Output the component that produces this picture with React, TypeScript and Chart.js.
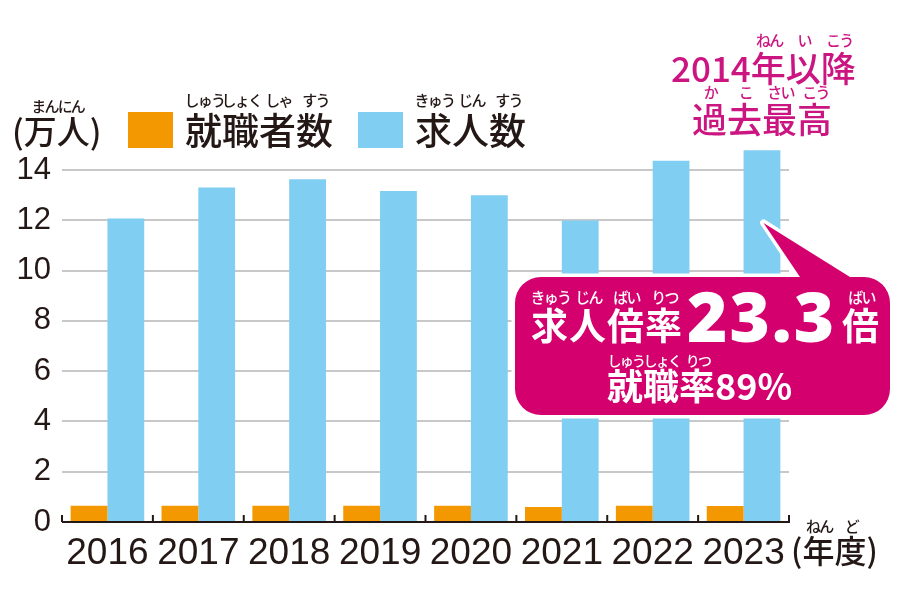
import React, { useEffect, useRef } from 'react';
import { Chart, registerables } from 'chart.js';

Chart.register(...registerables);

// ---- data ----
const years = ['2016', '2017', '2018', '2019', '2020', '2021', '2022', '2023'];
const employed = [0.65, 0.65, 0.65, 0.65, 0.65, 0.6, 0.65, 0.64];
const openings = [12.08, 13.31, 13.64, 13.17, 13.0, 12.0, 14.37, 14.79];
const yTickValues = [0, 2, 4, 6, 8, 10, 12, 14];
const ratioText = '23.3';
const rateText = '89%';

const DARK = '#231815';
const ORANGE = '#f39800';
const BLUE = '#80cef2';
const MAGENTA = '#d3006e';
const PINK_TEXT = '#cb1580';
const JP = '"Noto Sans CJK JP", "Noto Sans CJK SC", sans-serif';

type Seg = [string, string];

function ruby(
  ctx: CanvasRenderingContext2D,
  x: number,
  y: number,
  segs: Seg[],
  size: number,
  weight: number,
  rsize: number,
  rdy: number,
  color: string,
  spacing = 0,
  rspacing = -1.8
) {
  ctx.save();
  ctx.fillStyle = color;
  ctx.textBaseline = 'alphabetic';
  let cx = x;
  for (const [b, r] of segs) {
    ctx.font = `${weight} ${size}px ${JP}`;
    (ctx as any).letterSpacing = spacing + 'px';
    ctx.textAlign = 'left';
    const w = ctx.measureText(b).width;
    ctx.fillText(b, cx, y);
    if (r) {
      ctx.font = `500 ${rsize}px ${JP}`;
      (ctx as any).letterSpacing = rspacing + 'px';
      ctx.textAlign = 'center';
      ctx.fillText(r, cx + (w - spacing) / 2 - rspacing / 2, y - rdy);
    }
    cx += w;
  }
  ctx.restore();
}

const decorPlugin = {
  id: 'decor',
  afterDatasetsDraw(chart: any) {
    const ctx: CanvasRenderingContext2D = chart.ctx;
    const xs = chart.scales.x;
    const ys = chart.scales.y;
    const y0 = ys.getPixelForValue(0);
    const n = years.length;
    ctx.save();
    ctx.strokeStyle = DARK;
    ctx.lineWidth = 2;
    ctx.beginPath();
    ctx.moveTo(xs.left, y0);
    ctx.lineTo(xs.right + 1, y0);
    for (let i = 0; i <= n; i++) {
      const x = xs.left + ((xs.right - xs.left) * i) / n;
      ctx.moveTo(x, y0);
      ctx.lineTo(x, y0 - 7);
    }
    ctx.stroke();
    ctx.restore();
  },
  afterDraw(chart: any) {
    const ctx: CanvasRenderingContext2D = chart.ctx;
    const xs = chart.scales.x;
    const ys = chart.scales.y;

    // unit label
    ruby(ctx, 12, 144, [['(', ''], ['万人', 'まんにん'], [')', '']], 33, 500, 15, 32, DARK);

    // legend
    ctx.save();
    ctx.fillStyle = ORANGE;
    ctx.fillRect(128, 112, 45, 36);
    ctx.fillStyle = BLUE;
    ctx.fillRect(358, 112, 45, 36);
    ctx.restore();
    ruby(ctx, 185, 145, [['就', 'しゅう'], ['職', 'しょく'], ['者', 'しゃ'], ['数', 'すう']], 37, 500, 15, 39, DARK);
    ruby(ctx, 415, 145, [['求', 'きゅう'], ['人', 'じん'], ['数', 'すう']], 37, 500, 15, 39, DARK);

    // top-right note
    ruby(ctx, 671, 82, [['2014', ''], ['年', 'ねん'], ['以', 'い'], ['降', 'こう']], 35, 500, 15, 36, PINK_TEXT);
    ruby(ctx, 692, 133, [['過', 'か'], ['去', 'こ'], ['最', 'さい'], ['高', 'こう']], 35, 500, 15, 35, PINK_TEXT);

    // callout
    const tipX = xs.getPixelForValue(years.length - 1) + 20;
    const tipY = ys.getPixelForValue(11.9);
    const L = 515, T = 277, R = 890, B = 415, r = 26;
    ctx.save();
    ctx.beginPath();
    ctx.moveTo(L + r, T);
    ctx.lineTo(800, T);
    ctx.lineTo(tipX, tipY);
    ctx.lineTo(850, T);
    ctx.lineTo(R - r, T);
    ctx.arcTo(R, T, R, T + r, r);
    ctx.lineTo(R, B - r);
    ctx.arcTo(R, B, R - r, B, r);
    ctx.lineTo(L + r, B);
    ctx.arcTo(L, B, L, B - r, r);
    ctx.lineTo(L, T + r);
    ctx.arcTo(L, T, L + r, T, r);
    ctx.closePath();
    ctx.strokeStyle = '#ffffff';
    ctx.lineWidth = 7;
    ctx.lineJoin = 'round';
    ctx.stroke();
    ctx.fillStyle = MAGENTA;
    ctx.fill();
    ctx.restore();

    ruby(ctx, 531, 340, [['求', 'きゅう'], ['人', 'じん'], ['倍', 'ばい'], ['率', 'りつ']], 37, 700, 15, 37, '#ffffff', 1);
    ctx.save();
    ctx.fillStyle = '#ffffff';
    ctx.font = `800 69px "Open Sans", "Noto Sans", sans-serif`;
    (ctx as any).letterSpacing = '2px';
    ctx.textAlign = 'left';
    ctx.textBaseline = 'alphabetic';
    ctx.fillText(ratioText, 687, 342);
    ctx.restore();
    ruby(ctx, 842, 340, [['倍', 'ばい']], 37, 700, 15, 37, '#ffffff');
    ruby(ctx, 607, 400, [['就', 'しゅう'], ['職', 'しょく'], ['率', 'りつ'], [rateText, '']], 36, 700, 14, 34, '#ffffff');

    // x unit
    ruby(ctx, 791, 563, [['(', ''], ['年', 'ねん'], ['度', 'ど'], [')', '']], 32, 500, 15, 31, DARK);
  },
};

export default function App() {
  const ref = useRef<HTMLCanvasElement | null>(null);
  useEffect(() => {
    if (!ref.current) return;
    const chart = new Chart(ref.current, {
      type: 'bar',
      data: {
        labels: years,
        datasets: [
          {
            label: '就職者数',
            data: employed,
            backgroundColor: ORANGE,
            borderWidth: 0,
            barPercentage: 1.0,
            categoryPercentage: 0.81,
          },
          {
            label: '求人数',
            data: openings,
            backgroundColor: BLUE,
            borderWidth: 0,
            barPercentage: 1.0,
            categoryPercentage: 0.81,
          },
        ],
      },
      options: {
        animation: false,
        responsive: false,
        maintainAspectRatio: false,
        layout: { padding: { top: 145, right: 111, bottom: 0, left: 0 } },
        plugins: {
          legend: { display: false },
          tooltip: { enabled: false },
          title: { display: false },
        },
        scales: {
          x: {
            offset: true,
            grid: { display: false, drawTicks: false },
            border: { display: false },
            ticks: {
              color: DARK,
              padding: 10,
              maxRotation: 0,
              font: { family: '"Liberation Sans", Arial, sans-serif', size: 37 },
            },
            afterFit: (scale: any) => {
              scale.height = 78;
            },
          },
          y: {
            min: 0,
            max: 15,
            grid: {
              drawTicks: false,
              lineWidth: 2,
              color: (c: any) => (c.tick && c.tick.value === 0 ? 'rgba(0,0,0,0)' : '#c8c8c8'),
            },
            border: { display: false },
            afterBuildTicks: (axis: any) => {
              axis.ticks = yTickValues.map((v) => ({ value: v }));
            },
            ticks: {
              color: DARK,
              padding: 11,
              font: { family: '"Liberation Sans", Arial, sans-serif', size: 31 },
            },
            afterFit: (scale: any) => {
              scale.width = 62;
            },
          },
        },
      },
      plugins: [decorPlugin],
    });
    return () => chart.destroy();
  }, []);
  return (
    <div style={{ position: 'absolute', left: 0, top: 0, width: 900, height: 600, background: '#ffffff' }}>
      <canvas ref={ref} width={900} height={600} style={{ display: 'block', width: 900, height: 600 }} />
    </div>
  );
}
